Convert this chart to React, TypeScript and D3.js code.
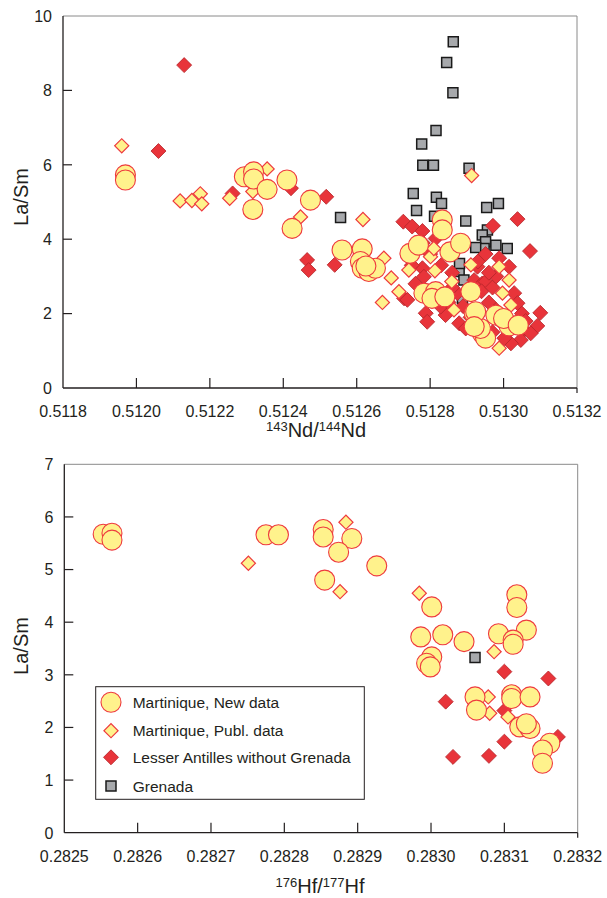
import React from 'react';
import * as d3 from 'd3';

// --- Nd panel data: [143Nd/144Nd, La/Sm] ---
const ndNew = [
  [0.51197, 5.73], [0.51197, 5.59],
  [0.512294, 5.68], [0.512319, 5.81], [0.512319, 5.62], [0.512356, 5.34], [0.512317, 4.8],
  [0.51241, 5.59], [0.512424, 4.29], [0.512474, 5.05],
  [0.51256, 3.71], [0.512615, 3.74], [0.51261, 3.4], [0.512615, 3.22], [0.512633, 3.13],
  [0.512651, 3.22], [0.512625, 3.28],
  [0.512745, 3.62], [0.512768, 3.84], [0.512833, 4.52], [0.512833, 4.25], [0.512854, 3.66],
  [0.512883, 3.89],
  [0.512783, 2.55], [0.51282, 2.5], [0.512815, 2.59], [0.512805, 2.41], [0.51284, 2.45],
  [0.512911, 2.59], [0.51292, 2.01], [0.512942, 1.47], [0.512979, 1.96], [0.512951, 1.34],
  [0.513015, 1.67], [0.513, 1.87], [0.512937, 1.6], [0.51304, 1.69], [0.512924, 2.05],
  [0.51292, 1.65],
];
const ndPubl = [
  [0.51196, 6.51], [0.512119, 5.03], [0.512151, 5.04], [0.512174, 5.22], [0.512178, 4.95],
  [0.512254, 5.1], [0.512317, 5.28], [0.512356, 5.89], [0.512447, 4.6], [0.512617, 4.53],
  [0.512913, 5.71], [0.512674, 3.49], [0.512694, 2.96], [0.51267, 2.3], [0.512715, 2.59],
  [0.512742, 3.17], [0.512801, 3.53], [0.512813, 3.15], [0.512859, 2.86], [0.512865, 2.1],
  [0.512911, 3.31], [0.51281, 3.75], [0.512988, 3.26], [0.513015, 2.9], [0.512997, 2.55],
  [0.51302, 2.23], [0.512988, 1.07],
];
const ndLesser = [
  [0.51213, 8.68], [0.51206, 6.37], [0.512262, 5.23], [0.512421, 5.37], [0.512465, 3.44],
  [0.512469, 3.17], [0.512517, 5.14], [0.51254, 3.31], [0.513038, 4.54], [0.513072, 3.68],
  [0.512971, 4.36], [0.512727, 4.47], [0.512751, 4.34], [0.512779, 4.22], [0.512815, 4.02],
  [0.512951, 3.6], [0.512988, 3.49], [0.512779, 3.22], [0.512783, 2.99], [0.512729, 2.41],
  [0.512788, 2.01], [0.512792, 1.78], [0.512842, 1.96], [0.512879, 1.74], [0.512897, 1.6],
  [0.512929, 3.26], [0.51292, 2.9], [0.512874, 2.55], [0.512829, 2.19], [0.512942, 2.81],
  [0.513015, 3.26], [0.512951, 2.86], [0.513029, 2.55], [0.5131, 2.02], [0.513092, 1.67],
  [0.513056, 1.56], [0.513074, 1.47], [0.513038, 2.28], [0.513047, 1.29], [0.51302, 1.2],
  [0.513002, 1.34], [0.512738, 2.37], [0.512795, 2.6], [0.51276, 2.8], [0.51285, 2.3],
  [0.51286, 2.7], [0.51289, 2.2], [0.51291, 1.9], [0.51296, 2.3], [0.51298, 2.1],
  [0.51299, 1.8], [0.51297, 1.5], [0.51301, 1.9], [0.51305, 2.0], [0.51306, 1.8],
  [0.51294, 2.6], [0.51297, 2.7], [0.51298, 3.0], [0.51293, 3.4], [0.51296, 3.1],
  [0.51278, 3.9], [0.5128, 3.6], [0.51283, 3.3], [0.51286, 3.1], [0.51275, 3.3],
];
const ndGrenada = [
  [0.512863, 9.31], [0.512845, 8.75], [0.512862, 7.94], [0.512816, 6.92], [0.512777, 6.56],
  [0.51278, 5.99], [0.512809, 5.99], [0.512906, 5.91], [0.512754, 5.23], [0.512817, 5.13],
  [0.512831, 4.96], [0.512763, 4.77], [0.512954, 4.85], [0.512986, 4.96], [0.512556, 4.58],
  [0.512897, 4.49], [0.512812, 4.62], [0.512956, 4.25], [0.512942, 4.11], [0.512951, 3.93],
  [0.512979, 3.84], [0.51301, 3.75], [0.512947, 3.75], [0.512924, 3.78], [0.512879, 3.13],
  [0.51288, 3.35], [0.512892, 2.9], [0.512888, 2.41],
];

// --- Hf panel data: [176Hf/177Hf, La/Sm] ---
const hfNew = [
  [0.282553, 5.67], [0.282565, 5.69], [0.282565, 5.56],
  [0.282775, 5.66], [0.282792, 5.66],
  [0.282853, 5.76], [0.282853, 5.62], [0.282892, 5.59], [0.282874, 5.33], [0.282926, 5.07],
  [0.282855, 4.8],
  [0.283001, 4.29], [0.282986, 3.72], [0.283016, 3.76], [0.283045, 3.63], [0.283001, 3.34],
  [0.282994, 3.22], [0.282999, 3.15],
  [0.283117, 4.52], [0.283117, 4.28], [0.283092, 3.78], [0.28313, 3.85], [0.283112, 3.66],
  [0.283112, 3.58],
  [0.28306, 2.58], [0.283062, 2.33], [0.28311, 2.62], [0.28311, 2.55], [0.283135, 2.58],
  [0.283121, 2.01], [0.283135, 1.98], [0.28313, 2.07], [0.283162, 1.7], [0.283152, 1.57],
  [0.283152, 1.32],
];
const hfPubl = [
  [0.282751, 5.12], [0.282884, 5.9], [0.282876, 4.58], [0.282984, 4.55], [0.283086, 3.44],
  [0.283078, 2.58], [0.28308, 2.27], [0.283105, 2.2],
];
const hfLesser = [
  [0.2831, 3.06], [0.28316, 2.93], [0.28302, 2.49], [0.2831, 2.32], [0.2831, 1.73],
  [0.28303, 1.44], [0.283079, 1.46], [0.283173, 1.82],
];
const hfGrenada = [[0.28306, 3.33]];

const ndTicks = [0.5118, 0.512, 0.5122, 0.5124, 0.5126, 0.5128, 0.513, 0.5132];
const hfTicks = [0.2825, 0.2826, 0.2827, 0.2828, 0.2829, 0.283, 0.2831, 0.2832];

const legendLabels = [
  'Martinique, New data',
  'Martinique, Publ. data',
  'Lesser Antilles without Grenada',
  'Grenada',
];

const FONT = '"Liberation Sans", Arial, sans-serif';
const TXT = '#231f20';

const yellow = { fill: '#fff28c', stroke: '#ee3a3e' };
const diamondPath = d3.symbol(d3.symbolSquare, 100)();
const redDiamondPath = d3.symbol(d3.symbolSquare, 112)();
const squarePath = d3.symbol(d3.symbolSquare, 100)();

function Marker({ kind, x, y }) {
  if (kind === 'new') {
    return <circle cx={x} cy={y} r={10} fill={yellow.fill} stroke={yellow.stroke} strokeWidth={1.1} />;
  }
  if (kind === 'publ') {
    return <path d={diamondPath} transform={`translate(${x},${y}) rotate(45)`}
      fill={yellow.fill} stroke={yellow.stroke} strokeWidth={1.2} />;
  }
  if (kind === 'lesser') {
    return <path d={redDiamondPath} transform={`translate(${x},${y}) rotate(45)`}
      fill="#e8343a" stroke="#b7262b" strokeWidth={0.8} />;
  }
  return <path d={squarePath} transform={`translate(${x},${y})`}
    fill="#a7a9ac" stroke="#1a1a1a" strokeWidth={1.5} />;
}

function Panel({ box, xDomain, yMax, xTicks, digits, series, xTitle, titleY, titleX, ylabelY }) {
  const x = d3.scaleLinear().domain(xDomain).range([box.left, box.right]);
  const y = d3.scaleLinear().domain([0, yMax]).range([box.bottom, box.top]);
  const yTicks = y.ticks(yMax > 8 ? 5 : 7);
  return (
    <g fontFamily={FONT} fill={TXT}>
      {/* frame: grey top/right, black left/bottom */}
      <line x1={box.left} x2={box.right} y1={box.top} y2={box.top} stroke="#8a8a8a" strokeWidth={1} />
      <line x1={box.right} x2={box.right} y1={box.top} y2={box.bottom} stroke="#8a8a8a" strokeWidth={1} />
      <line x1={box.left} x2={box.left} y1={box.top} y2={box.bottom} stroke={TXT} strokeWidth={1.3} />
      <line x1={box.left} x2={box.right} y1={box.bottom} y2={box.bottom} stroke={TXT} strokeWidth={1.3} />

      {xTicks.map((t, i) => (
        <g key={'xt' + i}>
          {i > 0 && <line x1={x(t)} x2={x(t)} y1={box.bottom} y2={i === xTicks.length - 1 ? box.bottom + 5 : box.bottom - 10} stroke={TXT} strokeWidth={1.2} />}
          <text x={x(t)} y={box.bottom + 29} textAnchor="middle" fontSize={16}>{t.toFixed(digits)}</text>
        </g>
      ))}
      {yTicks.map((t) => (
        <g key={'yt' + t}>
          {t > 0 && t < yMax && <line x1={box.left} x2={box.left + 9} y1={y(t)} y2={y(t)} stroke={TXT} strokeWidth={1.2} />}
          <text x={box.left - 11} y={y(t) + 5.8} textAnchor="end" fontSize={16}>{t}</text>
        </g>
      ))}

      <text transform={`translate(28,${ylabelY}) rotate(-90)`} textAnchor="middle" fontSize={20}>La/Sm</text>
      <text x={titleX} y={titleY} textAnchor="middle" fontSize={20}>
        <tspan fontSize={13} dy={-6.5}>{xTitle[0]}</tspan>
        <tspan dy={6.5}>{xTitle[1]}/</tspan>
        <tspan fontSize={13} dy={-6.5}>{xTitle[2]}</tspan>
        <tspan dy={6.5}>{xTitle[3]}</tspan>
      </text>

      {series.map(([kind, data]) =>
        data.map((d, i) => <Marker key={kind + i} kind={kind} x={x(d[0])} y={y(d[1])} />)
      )}
    </g>
  );
}

export default function App() {
  const legendKinds = ['new', 'publ', 'lesser', 'grenada'];
  const legendRows = [702.3, 730.7, 757.3, 786];
  return (
    <svg width={607} height={898} style={{ position: 'absolute', left: 0, top: 0, background: '#fff' }}>
      <Panel
        box={{ left: 63, right: 577, top: 16, bottom: 388 }}
        xDomain={[0.5118, 0.5132]} yMax={10} xTicks={ndTicks} digits={4}
        series={[['grenada', ndGrenada], ['lesser', ndLesser], ['publ', ndPubl], ['new', ndNew]]}
        xTitle={['143', 'Nd', '144', 'Nd']} titleY={437} titleX={316} ylabelY={197}
      />
      <Panel
        box={{ left: 64.3, right: 577.7, top: 464.3, bottom: 832.7 }}
        xDomain={[0.2825, 0.2832]} yMax={7} xTicks={hfTicks} digits={4}
        series={[['grenada', hfGrenada], ['lesser', hfLesser], ['publ', hfPubl], ['new', hfNew]]}
        xTitle={['176', 'Hf', '177', 'Hf']} titleY={893} titleX={320} ylabelY={646}
      />
      <g fontFamily={FONT} fill={TXT}>
        <rect x={95.7} y={686.7} width={268.6} height={112.6} fill="#fff" stroke={TXT} strokeWidth={1} />
        {legendLabels.map((label, i) => (
          <g key={label}>
            <Marker kind={legendKinds[i]} x={111} y={legendRows[i]} />
            <text x={132.7} y={legendRows[i] + 5.5} fontSize={15.5}>{label}</text>
          </g>
        ))}
      </g>
    </svg>
  );
}
